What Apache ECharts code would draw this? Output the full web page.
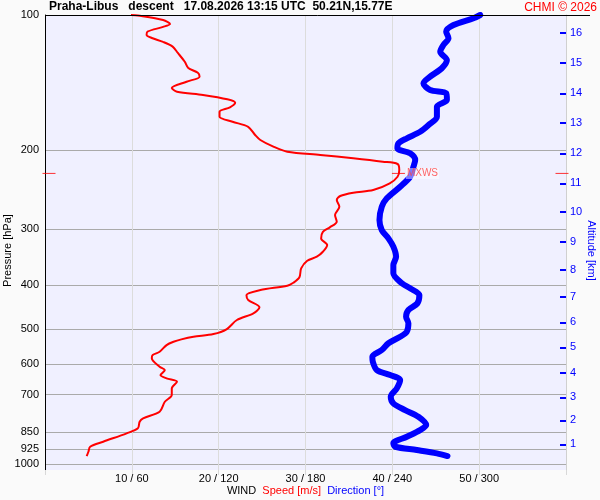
<!DOCTYPE html>
<html>
<head>
<meta charset="utf-8">
<script src="https://cdn.jsdelivr.net/npm/echarts@6/dist/echarts.min.js"></script>
<style>
  html, body { margin: 0; padding: 0; background: #fafafa; }
  #chart { width: 600px; height: 500px; }
</style>
</head>
<body>
<div id="chart"></div>
<script>
// sounding header
const stationTitle = 'Praha-Libus   descent   17.08.2026 13:15 UTC  50.21N,15.77E';
const copyright = 'CHMI © 2026';

// pressure levels on the left axis (hPa)
const pressureTicks = [100, 200, 300, 400, 500, 600, 700, 850, 925, 1000];
// altitude ticks on the right axis: km and the pressure where they sit
const altitudeKm = [1, 2, 3, 4, 5, 6, 7, 8, 9, 10, 11, 12, 13, 14, 15, 16];
const altitudePressure = [903.8, 799.3, 710.3, 626.0, 549.8, 483.5, 424.1, 369.8, 320.0, 274.7, 237.1, 203.2, 173.8, 149.4, 127.7, 109.7];

// wind speed profile [pressure hPa, speed m/s]
const windSpeed = [
  [100, 9.9], [100.3, 10.7], [102.6, 13.6], [104.7, 14.4], [106.3, 13.6], [108.9, 11.8],
  [110.8, 11.7], [112.5, 12.3], [114.8, 13.6], [117.6, 14.7], [121.5, 15.3], [127.1, 16.1],
  [131.2, 16.5], [134.5, 17.6], [137.2, 17.8], [140.8, 16.3], [145.4, 14.6], [148.2, 15.2],
  [150.7, 18.2], [154.1, 21.0], [156.8, 21.9], [160.5, 21.3], [164.2, 20.1], [168.5, 20.1],
  [172.9, 21.6], [177.4, 23.4], [185.0, 24.2], [189.8, 24.8], [196.4, 26.3], [201.6, 27.9],
  [205.0, 31.7], [208.5, 35.5], [212.2, 38.9], [214.7, 40.6], [221.4, 40.8], [229.2, 40.6],
  [237.1, 39.7], [245.4, 37.8], [248.8, 35.5], [253.0, 34.0], [258.2, 33.6], [267.3, 33.9],
  [279.0, 33.4], [288.7, 33.6], [297.1, 32.8], [303.9, 32.0], [314.4, 31.8], [325.3, 32.5],
  [336.7, 32.0], [345.4, 31.3], [352.6, 30.2], [366.6, 29.5], [383.9, 29.3], [394.7, 28.6],
  [400.8, 27.9], [409.8, 24.8], [420.4, 23.2], [431.3, 23.4], [447.7, 24.7], [461.7, 24.0],
  [477.8, 22.1], [501.2, 20.9], [513.5, 19.4], [520.6, 17.1], [527.6, 15.7], [534.1, 14.8],
  [543.3, 14.0], [562.3, 13.2], [571.9, 12.4], [581.6, 12.3], [607.3, 13.2], [617.6, 13.8],
  [633.7, 13.3], [644.5, 14.0], [655.8, 15.2], [678.4, 14.6], [702.0, 14.6], [726.5, 13.8],
  [764.7, 13.2], [791.0, 11.3], [805.0, 10.9], [832.7, 10.7], [854.3, 9.4], [891.9, 6.7],
  [915.1, 5.2], [938.9, 5.0], [959.8, 4.8]
];

// wind direction profile [pressure hPa, direction deg]
const windDirection = [
  [100, 300.7], [101.7, 296.1], [105.3, 282.3], [108.9, 277.2], [112.7, 278.8], [116.6, 275.3],
  [120.7, 273.1], [126.0, 277.7], [131.4, 274.2], [137.2, 266.1], [142.0, 261.5], [146.9, 266.1],
  [149.4, 277.2], [154.6, 277.7], [160.0, 270.8], [168.5, 270.8], [175.8, 265.0], [182.0, 259.2],
  [188.2, 250.0], [193.1, 244.2], [198.1, 243.5], [203.2, 252.3], [210.3, 255.8], [217.7, 254.6],
  [229.2, 252.3], [241.3, 245.4], [256.0, 236.2], [267.3, 232.7], [286.2, 231.1], [301.3, 232.7],
  [314.4, 237.3], [328.1, 240.7], [345.4, 242.6], [360.5, 240.7], [376.1, 240.7], [395.9, 246.6],
  [406.2, 252.3], [420.4, 258.7], [438.7, 257.3], [453.9, 251.1], [469.7, 249.5], [486.0, 251.1],
  [507.4, 250.0], [520.6, 245.4], [538.4, 237.3], [557.4, 232.7], [576.8, 226.2], [591.8, 226.5],
  [617.6, 229.3], [633.7, 238.5], [650.1, 245.4], [678.4, 243.1], [708.2, 238.9], [732.5, 240.7],
  [758.1, 248.8], [784.6, 258.0], [818.7, 263.4], [840.1, 259.2], [869.4, 250.0], [899.2, 240.7],
  [915.1, 241.9], [930.7, 256.9], [946.6, 270.8], [959.8, 278.1]
];

// maximum wind marker
const mxwsPressure = 225.3;
const mxwsSpeed = 40.7;

const FONT = '"Liberation Sans", Arial, sans-serif';
const P_MIN = 100, P_MAX = 1031;
const S_MIN = 0, S_MAX = 60;

function altitudeLabel(v) {
  // closest altitude tick
  let best = 0;
  altitudePressure.forEach((p, i) => {
    if (Math.abs(p - v) < Math.abs(altitudePressure[best] - v)) best = i;
  });
  return String(altitudeKm[best]);
}

const chart = echarts.init(document.getElementById('chart'), null, { renderer: 'canvas' });

const option = {
  backgroundColor: '#fafafa',
  animation: false,
  textStyle: { fontFamily: FONT },
  title: [
    {
      text: stationTitle, left: 49, top: 1, padding: 0,
      textStyle: { fontSize: 12, fontWeight: 'bold', color: '#000', fontFamily: FONT }
    },
    {
      text: copyright, right: 3, top: 2, padding: 0,
      textStyle: { fontSize: 12, fontWeight: 'normal', color: '#ff0000', fontFamily: FONT }
    }
  ],
  graphic: [
    // top frame line, runs a bit past the plot like the original
    { type: 'line', shape: { x1: 45, y1: 15.5, x2: 590, y2: 15.5 }, style: { stroke: '#000', lineWidth: 1 }, z: 10 }
  ],
  grid: {
    left: 45, right: 34, top: 15, bottom: 30,
    outerBoundsMode: 'none', containLabel: false,
    show: true, backgroundColor: '#f0f0ff', borderWidth: 0
  },
  xAxis: [
    {
      type: 'value', min: S_MIN, max: S_MAX, interval: 10, position: 'bottom',
      axisLine: { show: false, onZero: false },
      axisTick: { show: true, length: 5, lineStyle: { color: '#d8d8d8' } },
      axisLabel: {
        fontSize: 11, color: '#000', margin: 3, fontFamily: FONT,
        formatter: v => (v > S_MIN && v < S_MAX) ? v + ' / ' + v * 6 : ''
      },
      splitLine: { show: true, lineStyle: { color: '#dcdcdc' } },
      name: '{w|WIND}  {s|Speed [m/s]}  {d|Direction [°]}',
      nameLocation: 'middle', nameGap: 15, nameMoveOverlap: false,
      nameTextStyle: {
        fontSize: 11, fontFamily: FONT,
        rich: {
          w: { color: '#000', fontSize: 11, fontFamily: FONT },
          s: { color: '#ff0000', fontSize: 11, fontFamily: FONT },
          d: { color: '#0000ff', fontSize: 11, fontFamily: FONT }
        }
      }
    },
    {
      type: 'value', min: 0, max: 360, position: 'top',
      axisLine: { show: false, onZero: false },
      axisTick: { show: false }, axisLabel: { show: false }, splitLine: { show: false }
    }
  ],
  yAxis: [
    {
      type: 'log', min: P_MIN, max: P_MAX, inverse: true, position: 'left',
      axisLine: { show: true, onZero: false, lineStyle: { color: '#000' } },
      axisTick: { show: false, customValues: pressureTicks },
      axisLabel: {
        customValues: pressureTicks, fontSize: 11, color: '#000', margin: 6, fontFamily: FONT,
        formatter: v => String(Math.round(v))
      },
      splitLine: { show: true, lineStyle: { color: '#aaa' } },
      minorTick: { show: false }, minorSplitLine: { show: false },
      name: 'Pressure [hPa]', nameLocation: 'middle', nameGap: 32, nameMoveOverlap: false,
      nameTextStyle: { fontSize: 11, color: '#000', fontFamily: FONT, padding: [0, 16, 0, 0] }
    },
    {
      type: 'log', min: P_MIN, max: P_MAX, inverse: true, position: 'right',
      axisLine: { show: true, onZero: false, lineStyle: { color: '#d0d0d0' } },
      axisTick: { show: true, inside: true, length: 6, customValues: altitudePressure, lineStyle: { color: '#0000ff', width: 2 } },
      axisLabel: {
        customValues: altitudePressure, fontSize: 11, color: '#0000ff', margin: 4, fontFamily: FONT,
        formatter: altitudeLabel
      },
      splitLine: { show: false },
      name: 'Altitude [km]', nameLocation: 'middle', nameRotate: -90, nameGap: 20, nameMoveOverlap: false,
      nameTextStyle: { fontSize: 11, color: '#0000ff', fontFamily: FONT, padding: [0, 0, 0, 16] }
    }
  ],
  series: [
    {
      type: 'line', name: 'Direction', xAxisIndex: 1, yAxisIndex: 0,
      data: windDirection.map(d => [d[1], d[0]]),
      showSymbol: false, smooth: 0.3, z: 2,
      lineStyle: { color: '#0000ff', width: 6, cap: 'round', join: 'round' }
    },
    {
      type: 'line', name: 'Speed', xAxisIndex: 0, yAxisIndex: 0,
      data: windSpeed.map(d => [d[1], d[0]]),
      showSymbol: false, smooth: 0.3, z: 3,
      lineStyle: { color: '#ff0000', width: 2 }
    },
    {
      type: 'scatter', name: 'MXWS', xAxisIndex: 0, yAxisIndex: 0,
      data: [[mxwsSpeed, mxwsPressure]],
      symbol: 'rect', symbolSize: [13, 1], z: 5,
      itemStyle: { color: '#ff0000' },
      label: {
        show: true, position: 'right', distance: 1, formatter: 'MXWS',
        color: '#ff4040', fontSize: 10, fontFamily: FONT,
        backgroundColor: 'rgba(255,255,255,0.6)', padding: [1, 1, 0, 1]
      }
    },
    {
      // MXWS level marks crossing both frame edges
      type: 'scatter', name: 'MXWS level', xAxisIndex: 0, yAxisIndex: 0,
      data: [
        { value: [S_MIN, mxwsPressure], symbolOffset: [4, 0] },
        { value: [S_MAX, mxwsPressure], symbolOffset: [-4, 0] }
      ],
      symbol: 'rect', symbolSize: [13, 1], z: 6, clip: false,
      itemStyle: { color: '#ff0000' }
    }
  ]
};

chart.setOption(option);
</script>
</body>
</html>
